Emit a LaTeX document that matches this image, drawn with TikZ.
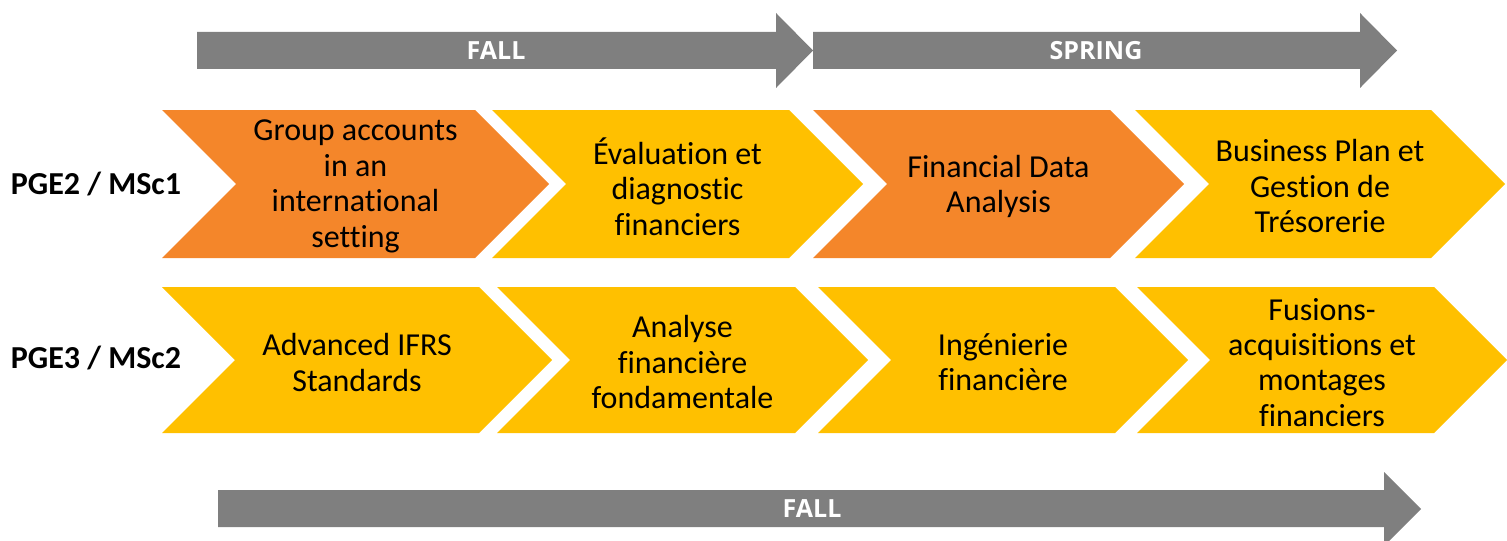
\documentclass[tikz,border=0pt]{standalone}
\usepackage{fontspec}
\setmainfont{Carlito}[Ligatures=NoCommon]
\newfontfamily\termfont{Open Sans}
\usepackage{tikz}

\definecolor{courseorange}{HTML}{F4862A}
\definecolor{coursegold}{HTML}{FFC000}
\definecolor{termgray}{HTML}{7F7F7F}

\tikzset{
	coursetext/.style={align=center, text=black, yshift=-1.2pt, font=\fontsize{16}{17.7}\selectfont},
	rowlabel/.style={font=\fontsize{16}{18}\selectfont\bfseries, text=black},
	termlabel/.style={font=\fontsize{12.5}{14}\selectfont\termfont\bfseries, text=white}
}

% #1 name, #2 left, #3 tip, #4 top, #5 bottom, #6 colour, #7 text
\newcommand{\course}[7]{
	\fill[#6] (#2,#4) -- ({#3-(#5-#4)/2},#4) -- (#3,{(#4+#5)/2}) -- ({#3-(#5-#4)/2},#5)
		-- (#2,#5) -- ({#2+(#5-#4)/2},{(#4+#5)/2}) -- cycle;
	\node[coursetext] (#1) at ({(#2+#3)/2},{(#4+#5)/2}) {#7};
}

\begin{document}
\begin{tikzpicture}[x=0.5pt, y=-0.5pt]
			\useasboundingbox (0,0) rectangle (1507,540);
			% terms
			\fill[termgray] (197,32) -- (776,32) -- (776,13) -- (813,50.5) -- (776,88) -- (776,69) -- (197,69) -- cycle;
			\fill[termgray] (813,32) -- (1360,32) -- (1360,13) -- (1397,50.5) -- (1360,88) -- (1360,69) -- (813,69) -- cycle;
			\fill[termgray] (218,490) -- (1384,490) -- (1384,472) -- (1421,509) -- (1384,546) -- (1384,527) -- (218,527) -- cycle;
			\node[termlabel] (fallone) at (496,50.5) {FALL};
			\node[termlabel] (spring) at (1096,50.5) {SPRING};
			\node[termlabel] (falltwo) at (812,508.5) {FALL};
			% first year
			\node[rowlabel] (yearone) at (96,184) {PGE2 / MSc1};
			\course{group}{162}{549}{110}{258}{courseorange}{Group accounts\\in an\\international\\setting}
			\course{eval}{492}{863}{110}{258}{coursegold}{Évaluation et\\diagnostic\\financiers}
			\course{data}{813}{1184}{110}{258}{courseorange}{Financial Data\\Analysis}
			\course{plan}{1135}{1505}{110}{258}{coursegold}{Business Plan et\\Gestion de\\Trésorerie}
			% second year
			\node[rowlabel] (yeartwo) at (96,358) {PGE3 / MSc2};
			\course{ifrs}{162}{552}{287}{433}{coursegold}{Advanced IFRS\\Standards}
			\course{analyse}{497}{868}{287}{433}{coursegold}{Analyse\\financière\\fondamentale}
			\course{inge}{818}{1188}{287}{433}{coursegold}{Ingénierie\\financière}
			\course{fusions}{1137}{1507}{287}{433}{coursegold}{Fusions-\\acquisitions et\\montages\\financiers}
		\end{tikzpicture}
\end{document}
